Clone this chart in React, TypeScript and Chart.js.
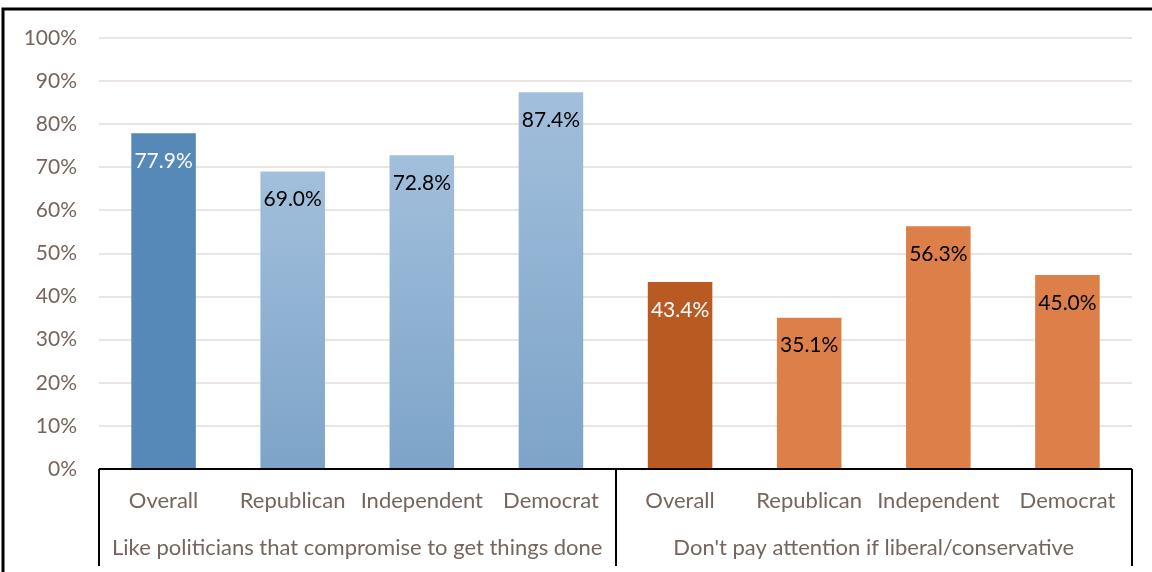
import React, { useEffect, useRef } from "react";
import { Chart, registerables } from "chart.js";

Chart.register(...registerables);

const categories = [
  "Overall", "Republican", "Independent", "Democrat",
  "Overall", "Republican", "Independent", "Democrat",
];
const groupLabels = [
  "Like politicians that compromise to get things done",
  "Don't pay attention if liberal/conservative",
];
const values = [77.9, 69.0, 72.8, 87.4, 43.4, 35.1, 56.3, 45.0];
const yTicks = [0, 10, 20, 30, 40, 50, 60, 70, 80, 90, 100];

const FONT = "Lato, 'Open Sans', sans-serif";
const TEXT = "#76655d";

export default function App() {
  const ref = useRef<HTMLCanvasElement | null>(null);

  useEffect(() => {
    document.body.style.margin = "0";
    const canvas = ref.current!;

    const barColor = (ctx: any) => {
      const i = ctx.dataIndex;
      if (i === 0) return "#5689b8";
      if (i === 4) return "#ba5a23";
      if (i > 4) return "#dd7f48";
      const chart = ctx.chart;
      const ys = chart.scales && chart.scales.y;
      if (!ys || !chart.chartArea) return "#90b2d3";
      const top = ys.getPixelForValue(values[i]);
      const bot = ys.getPixelForValue(0);
      const g = chart.ctx.createLinearGradient(0, top, 0, bot);
      g.addColorStop(0, "#a2bfdc");
      g.addColorStop(1, "#7da4c8");
      return g;
    };

    const decor = {
      id: "decor",
      afterDraw(chart: any) {
        const c = chart.ctx;
        const xs = chart.scales.x;
        const ys = chart.scales.y;
        const { left, right } = chart.chartArea;
        const base = ys.getPixelForValue(0);
        const n = categories.length;
        const step = (right - left) / n;
        c.save();
        // frame of the figure (cut off)
        c.strokeStyle = "#000";
        c.lineWidth = 3;
        c.beginPath();
        c.moveTo(3, 600);
        c.lineTo(3, 9);
        c.lineTo(1160, 9);
        c.stroke();
        // axis box
        c.lineWidth = 2;
        c.beginPath();
        c.moveTo(left, base);
        c.lineTo(right, base);
        const bottom = 566;
        [0, 4, 8].forEach((k) => {
          const x = Math.round(left + k * step);
          c.moveTo(x, base);
          c.lineTo(x, bottom);
        });
        c.stroke();
        // group labels
        c.fillStyle = TEXT;
        c.font = `22px ${FONT}`;
        c.textAlign = "center";
        c.textBaseline = "middle";
        groupLabels.forEach((g, k) => {
          const x0 = xs.getPixelForValue(k * 4);
          const x1 = xs.getPixelForValue(k * 4 + 3);
          c.fillText(g, (x0 + x1) / 2, 548);
        });
        // data labels
        const meta = chart.getDatasetMeta(0);
        c.font = `21px ${FONT}`;
        meta.data.forEach((bar: any, i: number) => {
          c.fillStyle = i === 0 || i === 4 ? "#ffffff" : "#000000";
          c.fillText(values[i].toFixed(1) + "%", bar.x, bar.y + 28);
        });
        c.restore();
      },
    };

    const chart = new Chart(canvas, {
      type: "bar",
      data: {
        labels: categories,
        datasets: [
          {
            data: values,
            backgroundColor: barColor as any,
            categoryPercentage: 1,
            barPercentage: 0.5,
          },
        ],
      },
      options: {
        responsive: false,
        animation: false,
        layout: { padding: { top: 38, right: 20, left: 0, bottom: 0 } },
        plugins: { legend: { display: false }, tooltip: { enabled: false } },
        scales: {
          x: {
            grid: { display: false, drawTicks: false },
            border: { display: false },
            ticks: {
              color: TEXT,
              font: { family: FONT, size: 22 },
              padding: 19,
              maxRotation: 0,
              autoSkip: false,
            },
            afterFit(scale: any) {
              scale.height = 103;
            },
          },
          y: {
            min: 0,
            max: 100,
            afterBuildTicks(scale: any) {
              scale.ticks = yTicks.map((v) => ({ value: v }));
            },
            grid: { color: "#ebe5e2", lineWidth: 2, drawTicks: false },
            border: { display: false },
            ticks: {
              color: TEXT,
              font: { family: FONT, size: 21 },
              padding: 22,
              callback: (v: any) => v + "%",
            },
            afterFit(scale: any) {
              scale.width = 99;
            },
          },
        },
      },
      plugins: [decor],
    });
    return () => chart.destroy();
  }, []);

  return (
    <div style={{ width: 1152, height: 572, background: "#fff" }}>
      <canvas ref={ref} width={1152} height={572} style={{ display: "block" }} />
    </div>
  );
}
